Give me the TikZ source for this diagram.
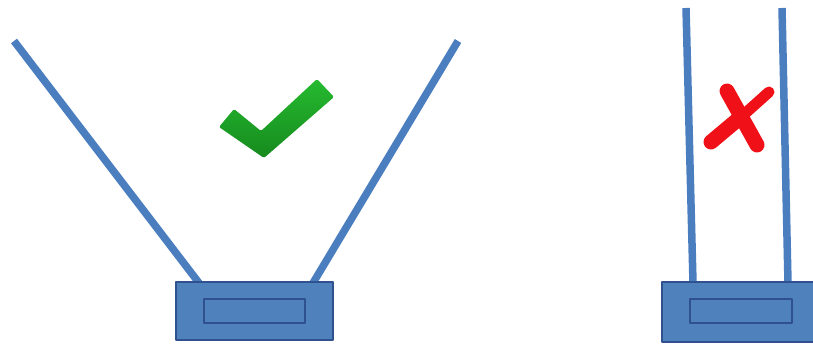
\documentclass[tikz,border=0pt]{standalone}
\definecolor{rodblue}{HTML}{4A7EBF}
\definecolor{baseblue}{HTML}{4F81BD}
\definecolor{baseedge}{HTML}{2F528F}
\definecolor{okgreen}{HTML}{26BA30}
\definecolor{okdark}{HTML}{168A1E}
\definecolor{badred}{HTML}{F01018}
\begin{document}
\begin{tikzpicture}[x=1pt, y=-1pt, line join=round]
  \useasboundingbox (0,0) rectangle (813,344);
  \clip (0,0) rectangle (813,344);
  \tikzset{rod/.style={rodblue, line width=7.5pt},
           base/.style={fill=baseblue, draw=baseedge, line width=1.6pt}}
  % montage ouvert : tiges ecartees en V
  \draw[rod] (14,41) -- (199,283);
  \draw[rod] (458,41) -- (313,283);
  \draw[base] (176,282) rectangle (333,340);
  \draw[base] (204,299) rectangle (305,323);
  % bon montage : coche verte
  \shade[top color=okgreen, bottom color=okdark, rounded corners=1.5pt]
    (219,127) -- (234,109) -- (261,131) -- (317,79) -- (334,97) -- (264,158) -- cycle;
  % montage parallele : tiges droites
  \foreach \a/\b in {686/693, 782/788} {
    \draw[rod] (\a,8) -- (\b,283);
  }
  \draw[base] (662,282) rectangle (820,342);
  \draw[base] (690,299) rectangle (792,323);
  % mauvais montage : croix rouge
  \draw[badred, line width=15pt, line cap=round] (727,91) -- (757,145);
  \draw[badred, line width=11pt, line cap=round] (769,92) -- (740,118);
  \draw[badred, line width=15pt, line cap=round] (742,116) -- (711,142);
\end{tikzpicture}
\end{document}
